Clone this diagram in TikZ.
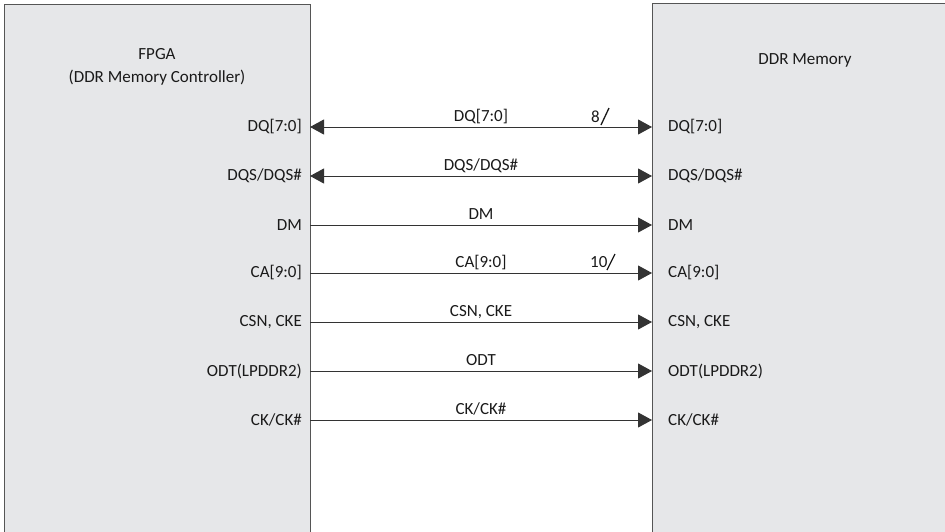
\documentclass[tikz,border=0pt]{standalone}
\usepackage{fontspec}
\setmainfont{Carlito}
\usetikzlibrary{arrows.meta}
\definecolor{boxfill}{HTML}{E6E7E9}
\definecolor{boxline}{HTML}{555555}
\definecolor{wire}{HTML}{333333}
\definecolor{txt}{HTML}{1A1A1A}
\begin{document}
\begin{tikzpicture}[x=1pt,y=-1pt,
  font=\fontsize{17}{21}\selectfont, text=txt,
  chip/.style={draw=boxline, line width=1pt, fill=boxfill, anchor=north west, inner sep=0pt},
  lpin/.style={anchor=east, inner sep=0pt},
  rpin/.style={anchor=west, inner sep=0pt},
  sig/.style={anchor=base, inner sep=0pt},
  bus/.style={anchor=base west, inner sep=0pt},
  slash/.style={draw=txt, line width=1.3pt},
  wireln/.style={draw=wire, line width=0.9pt, -{Triangle[length=14pt,width=15pt]}},
  wirebi/.style={draw=wire, line width=0.9pt, {Triangle[length=14pt,width=15pt]}-{Triangle[length=14pt,width=15pt]}}]
\useasboundingbox (0,0) rectangle (945,531);
\clip (0,0) rectangle (945,531);
\node[chip, minimum width=306pt, minimum height=560pt] (fpga) at (4,4) {};
\node[chip, minimum width=320pt, minimum height=560pt] (ddr) at (652,3) {};
\node[align=center, font=\fontsize{17}{23}\selectfont] (fpgat) at (157,67) {FPGA\\(DDR Memory Controller)};
\node (ddrt) at (805,60) {DDR Memory};
% pins
\foreach \n/\y in {1/127,2/176,3/225,4/273,5/322,6/371,7/420}{
  \coordinate (a\n) at (310,\y);
  \coordinate (b\n) at (652,\y);
}
\node[lpin] (l1) at (302,127) {DQ[7:0]};
\node[lpin] (l2) at (302,176) {DQS/DQS\#};
\node[lpin] (l3) at (302,225) {DM};
\node[lpin] (l4) at (302,273) {CA[9:0]};
\node[lpin] (l5) at (302,322) {CSN, CKE};
\node[lpin] (l6) at (302,371) {ODT(LPDDR2)};
\node[lpin] (l7) at (302,420) {CK/CK\#};
\node[rpin] (r1) at (668,127) {DQ[7:0]};
\node[rpin] (r2) at (668,176) {DQS/DQS\#};
\node[rpin] (r3) at (668,225) {DM};
\node[rpin] (r4) at (668,273) {CA[9:0]};
\node[rpin] (r5) at (668,322) {CSN, CKE};
\node[rpin] (r6) at (668,371) {ODT(LPDDR2)};
\node[rpin] (r7) at (668,420) {CK/CK\#};
% wires
\draw[wirebi] (a1) -- (b1);
\draw[wirebi] (a2) -- (b2);
\draw[wireln] (a3) -- (b3);
\draw[wireln] (a4) -- (b4);
\draw[wireln] (a5) -- (b5);
\draw[wireln] (a6) -- (b6);
\draw[wireln] (a7) -- (b7);
% signal labels
\node[sig] (s1) at (481,121) {DQ[7:0]};
\node[sig] (s2) at (481,170) {DQS/DQS\#};
\node[sig] (s3) at (481,219) {DM};
\node[sig] (s4) at (481,267) {CA[9:0]};
\node[sig] (s5) at (481,316) {CSN, CKE};
\node[sig] (s6) at (481,365) {ODT};
\node[sig] (s7) at (481,414) {CK/CK\#};
% bus widths
\node[bus] (w1) at (591,122) {8};
\coordinate (w1a) at (601,125);
\coordinate (w1b) at (609,108);
\draw[slash] (w1a) -- (w1b);
\node[bus] (w4) at (590,267) {10};
\coordinate (w4a) at (607,270);
\coordinate (w4b) at (615,254);
\draw[slash] (w4a) -- (w4b);
\end{tikzpicture}
\end{document}
